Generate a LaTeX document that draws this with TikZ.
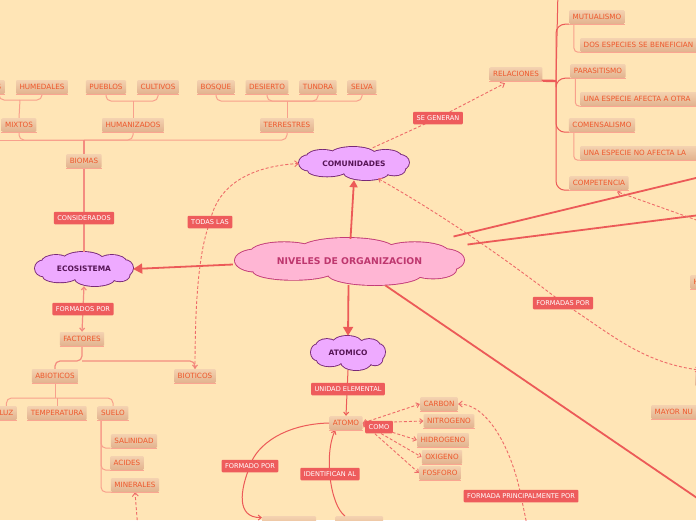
\documentclass[tikz,border=0pt]{standalone}
\usepackage{fontspec}
\setmainfont{DejaVu Sans}
\usetikzlibrary{shapes.geometric,arrows.meta,calc}
\definecolor{bg}{RGB}{255,229,182}
\definecolor{ttxt}{RGB}{238,88,44}
\definecolor{btop}{RGB}{244,210,176}
\definecolor{bbot}{RGB}{226,178,142}
\definecolor{uln}{RGB}{250,165,145}
\definecolor{lred}{RGB}{238,92,92}
\definecolor{cred}{RGB}{236,90,88}
\definecolor{treec}{RGB}{248,160,140}
\definecolor{pinkc}{RGB}{244,140,128}
\definecolor{vfill}{RGB}{238,170,255}
\definecolor{vdraw}{RGB}{120,40,120}
\definecolor{vtxt}{RGB}{85,20,85}
\definecolor{nfill}{RGB}{255,182,212}
\definecolor{ndraw}{RGB}{195,60,120}
\definecolor{ntxt}{RGB}{190,55,110}
\newcommand\mypuffs{(-0.57,-0.41) ellipse[x radius=0.29,y radius=0.41]
  (-0.02,-0.53) ellipse[x radius=0.41,y radius=0.47]
  (0.57,-0.41) ellipse[x radius=0.29,y radius=0.41]
  (-0.82,-0.04) ellipse[x radius=0.18,y radius=0.47]
  (0.82,-0.06) ellipse[x radius=0.18,y radius=0.47]
  (-0.49,0.41) ellipse[x radius=0.35,y radius=0.37]
  (0.22,0.53) ellipse[x radius=0.41,y radius=0.47]
  (0.73,0.35) ellipse[x radius=0.2,y radius=0.37]
  (0,0) ellipse[x radius=0.82,y radius=0.6]}
% #1 centre coordinate name, #2 half width, #3 half height, #4 fill, #5 stroke
\newcommand\blobdraw[5]{%
  \begin{scope}[shift={(#1)},xscale=#2,yscale=#3]
    \path[draw=#5, line width=1.8pt] \mypuffs;
    \path[fill=#4] \mypuffs;
  \end{scope}}
\tikzset{
  topic/.style={font=\fontsize{7.2}{8}\selectfont, text=ttxt, top color=btop, bottom color=bbot,
    rounded corners=1.2pt, inner xsep=3.5pt, inner ysep=0pt, minimum height=14pt,
    text height=5.3pt, text depth=0pt},
  lbl/.style={font=\fontsize{6.6}{8}\selectfont, text=white, fill=lred, rounded corners=1pt,
    inner xsep=3.5pt, inner ysep=0pt, minimum height=12.5pt, text height=4.9pt, text depth=0pt},
  blobtext/.style={ellipse, inner sep=0pt, text=vtxt, font=\fontsize{7.5}{9}\selectfont\bfseries},
  uline/.style={uln, line width=1.1pt},
  tree/.style={treec, line width=1pt, rounded corners=5pt},
  pinkline/.style={pinkc, line width=1.2pt},
  brk/.style={cred, line width=1pt, rounded corners=9pt},
  mainline/.style={cred, line width=1.8pt},
  bigtip/.style={-{Triangle[length=9pt,width=10pt]}},
  dsh/.style={cred!90, line width=0.9pt, dash pattern=on 3pt off 2pt},
  barb/.style={{Straight Barb[length=3pt,width=5pt]}-{Straight Barb[length=3pt,width=5pt]}}
}
\begin{document}
\begin{tikzpicture}[x=1pt,y=-1pt]
\useasboundingbox (0,0) rectangle (696,520);
\fill[bg] (0,0) rectangle (696,520);
\begin{scope}
\clip (0,0) rectangle (696,520);

% coordinates
\coordinate (j1) at (20,100);
\coordinate (j2) at (133,101);
\coordinate (j3) at (287,101);
\coordinate (j4) at (84,140);
\coordinate (offl) at (-10,140);
\coordinate (j5) at (57,398);
\coordinate (j6) at (82,361);
\coordinate (sueb) at (101,420);
\coordinate (jr) at (556,81);
\coordinate (topr) at (558,-10);
\coordinate (r1) at (700,177);
\coordinate (r2) at (700,215);
\coordinate (r3) at (700,500);
\coordinate (r4) at (699,370);
\coordinate (offc) at (702,222);
\coordinate (offm) at (138,530);
\coordinate (offf) at (528,530);
% label positions
\coordinate (consc) at (84,218);
\coordinate (todasc) at (210,222);
\coordinate (fporc) at (83,309);
\coordinate (segc) at (438,118);
\coordinate (fmdc) at (563,303);
\coordinate (unidc) at (348,389);
\coordinate (comoc) at (379,427);
\coordinate (fdoc) at (250,466);
\coordinate (idec) at (330,474);
\coordinate (fppc) at (521,496);
% cloud centres
\coordinate (nivc) at (349.5,261.5);
\coordinate (comc) at (354,163.5);
\coordinate (ecoc) at (84,269);
\coordinate (atoc) at (348,353);

% clouds
\blobdraw{nivc}{114.5}{23.5}{nfill}{ndraw}
\blobdraw{comc}{55}{16.5}{vfill}{vdraw}
\blobdraw{ecoc}{49}{17}{vfill}{vdraw}
\blobdraw{atoc}{37}{17}{vfill}{vdraw}
\node[blobtext, minimum width=229pt, minimum height=47pt, text=ntxt,
  font=\fontsize{9.3}{11}\selectfont\bfseries] (niv) at (nivc) {NIVELES DE ORGANIZACION};
\node[blobtext, minimum width=110pt, minimum height=33pt] (com) at (comc) {COMUNIDADES};
\node[blobtext, minimum width=98pt, minimum height=34pt] (eco) at (ecoc) {ECOSISTEMA};
\node[blobtext, minimum width=74pt, minimum height=34pt] (ato) at (atoc) {ATOMICO};

% topics
\node[topic, anchor=east] (s0) at (5,87) {S};
\node[topic] (hum) at (42,87) {HUMEDALES};
\node[topic] (pue) at (106,87) {PUEBLOS};
\node[topic] (cul) at (158,87) {CULTIVOS};
\node[topic] (bos) at (216,87) {BOSQUE};
\node[topic] (des) at (267,87) {DESIERTO};
\node[topic] (tun) at (318,87) {TUNDRA};
\node[topic] (sel) at (362,87) {SELVA};
\node[topic] (mix) at (19,125) {MIXTOS};
\node[topic] (hzd) at (133,125) {HUMANIZADOS};
\node[topic] (ter) at (287,125) {TERRESTRES};
\node[topic] (bio) at (84,161) {BIOMAS};
\node[topic] (fac) at (82,339) {FACTORES};
\node[topic] (abi) at (55,376) {ABIOTICOS};
\node[topic] (bit) at (195,376) {BIOTICOS};
\node[topic, anchor=east] (luz) at (17,413) {LUZ};
\node[topic] (tem) at (57,413) {TEMPERATURA};
\node[topic] (sue) at (113,413) {SUELO};
\node[topic] (sal) at (134,441) {SALINIDAD};
\node[topic] (aci) at (127,463) {ACIDES};
\node[topic] (min) at (135,485) {MINERALES};
\node[topic] (rel) at (516,74) {RELACIONES};
\node[topic] (mut) at (597,17) {MUTUALISMO};
\node[topic, anchor=west, text width=140pt, align=left] (dos) at (580,45) {DOS ESPECIES SE BENEFICIAN};
\node[topic] (par) at (598,71) {PARASITISMO};
\node[topic, anchor=west, text width=140pt, align=left] (una) at (580,99) {UNA ESPECIE AFECTA A OTRA};
\node[topic] (cms) at (602,125) {COMENSALISMO};
\node[topic, anchor=west, text width=140pt, align=left] (uno) at (580,153) {UNA ESPECIE NO AFECTA LA};
\node[topic] (cpt) at (599,183) {COMPETENCIA};
\node[topic, anchor=west, text width=30pt, align=left] (hh) at (690,282) {H};
\node[topic, anchor=north west, minimum width=30pt] (ee) at (695,372) {};
\node[topic, anchor=west, text width=60pt, align=left] (may) at (651,412) {MAYOR NU};
\node[topic] (atm) at (346,423) {ATOMO};
\node[topic] (car) at (439,404) {CARBON};
\node[topic] (nit) at (449,421) {NITROGENO};
\node[topic] (hid) at (443,440) {HIDROGENO};
\node[topic] (oxi) at (442,457) {OXIGENO};
\node[topic] (fos) at (440,473) {FOSFORO};
\node[topic, anchor=north west, minimum width=54pt] (b1) at (262,516) {};
\node[topic, anchor=north west, minimum width=48pt] (b2) at (335,516) {};

% tree top
\draw[tree] (s0.south) |- (j1) -| (hum.south);
\draw[tree] (j1) -- (mix.north);
\draw[tree] (pue.south) |- (j2) -| (cul.south);
\draw[tree] (j2) -- (hzd.north);
\draw[tree] (bos.south) |- (j3) -| (sel.south);
\draw[tree] (des.south) |- (j3) -| (tun.south);
\draw[tree] (j3) -- (ter.north);
\draw[tree] (mix.south) |- (j4) -| (ter.south);
\draw[tree] (hzd.south) |- (j4);
\draw[tree] (offl) -- (j4);
\draw[pinkline] (j4) -- (bio.north);
% abioticos
\draw[tree] (abi.south) -- (abi.south |- j5);
\draw[tree] (luz.north) |- (j5) -| (sue.north);
\draw[tree] (tem.north) -- (tem.north |- j5);
\draw[tree] (sueb) |- (sal.south west);
\draw[tree] (sueb) |- (aci.south west);
\draw[tree] (sueb) |- (min.south west);
% factores
\draw[pinkline, rounded corners=5pt] (abi.north) |- (j6) -- (fac.south);
\draw[pinkline, rounded corners=5pt, -{Straight Barb[length=3pt,width=5pt]}] (j6) -| (bit.north);
% relaciones bracket
\draw[cred, line width=2.4pt] ($(rel.south east)+(-1,-0.5)$) -- (jr);
\draw[brk] (jr) |- (mut.south west);
\draw[brk] (jr) -- (topr);
\draw[brk] (jr) |- (par.south west);
\draw[brk] (jr) |- (cms.south west);
\draw[brk] (jr) |- (cpt.south west);
\draw[tree, rounded corners=4pt] ($(mut.south west)+(5,0)$) |- (dos.south west);
\draw[tree, rounded corners=4pt] ($(par.south west)+(5,0)$) |- (una.south west);
\draw[tree, rounded corners=4pt] ($(cms.south west)+(5,0)$) |- (uno.south west);

% solid main connectors
\draw[mainline, bigtip] ($(niv.west)+(-2,3)$) -- (eco.east);
\draw[mainline, -{Triangle[length=7pt,width=8pt]}] ($(niv.north)+(1,1)$) -- (com.south);
\draw[mainline, bigtip] ($(niv.south)+(-1,0)$) -- (ato.north);
\draw[mainline] ($(niv.center)+(104,-25)$) -- (r1);
\draw[mainline] ($(niv.center)+(118,-17)$) -- (r2);
\draw[mainline] ($(niv.center)+(36,24)$) -- (r3);
% pink connectors
\draw[pinkline] (bio.south) -- (eco.north);
\draw[pinkline, barb] (eco.south) -- (fac.north);
\draw[cred, line width=1pt, -{Straight Barb[length=3pt,width=5pt]}] (ato.south) -- (atm.north);
% dashed
\draw[dsh, -{Straight Barb[length=3.5pt,width=6pt]}] (bit.north) .. controls (195,300) and (199,250) .. (todasc)
  .. controls (218,182) and (255,166) .. (com.west);
\draw[dsh, -{Straight Barb[length=3.5pt,width=6pt]}] (com.40) -- (segc) -- ($(rel.south)+(-11,2)$);
\draw[dsh, barb] (com.-32) .. controls (455,222) and (520,270) .. (fmdc)
  .. controls (610,333) and (640,362) .. (r4);
\draw[dsh, -{Straight Barb[length=3.5pt,width=6pt]}] (offc) -- ($(cpt.south)+(18,1.5)$);
\draw[dsh, -{Straight Barb[length=3.5pt,width=6pt]}] (offm) -- (min.south);
\draw[dsh, barb] (atm.east) -- (car.west);
\draw[dsh, barb] (atm.east) -- (nit.west);
\draw[dsh, barb] (atm.east) -- (hid.west);
\draw[dsh, barb] (atm.east) -- (oxi.west);
\draw[dsh, barb] (atm.east) -- (fos.west);
\draw[dsh, {Straight Barb[length=3.5pt,width=6pt]}-] (car.east) .. controls (488,404) and (512,450) .. (fppc) -- (offf);
% atomo curves
\draw[cred, line width=1pt, -{Straight Barb[length=3pt,width=5pt]}] (atm.west) .. controls (285,424) and (256,445) .. (fdoc)
  .. controls (240,490) and (236,518) .. ($(b1.north west)+(0,1.5)$);
\draw[cred, line width=1pt, -{Straight Barb[length=3pt,width=5pt]}] ($(b2.north west)+(10,0)$) .. controls (330,505) and (324,455) .. ($(atm.south west)+(6,0)$);

% labels
\node[lbl] (cons) at (consc) {CONSIDERADOS};
\node[lbl] (todas) at (todasc) {TODAS LAS};
\node[lbl] (fpor) at (fporc) {FORMADOS POR};
\node[lbl] (seg) at (segc) {SE GENERAN};
\node[lbl] (fmd) at (fmdc) {FORMADAS POR};
\node[lbl] (unid) at (unidc) {UNIDAD ELEMENTAL};
\node[lbl] (como) at (comoc) {COMO};
\node[lbl] (fdo) at (fdoc) {FORMADO POR};
\node[lbl] (ide) at (idec) {IDENTIFICAN AL};
\node[lbl] (fpp) at (fppc) {FORMADA PRINCIPALMENTE POR};

% underlines
\foreach \n in {s0,hum,pue,cul,bos,des,tun,sel,mix,hzd,ter,bio,fac,abi,bit,luz,tem,sue,sal,aci,min,rel,mut,dos,par,una,cms,uno,cpt,hh,may,atm,car,nit,hid,oxi,fos}
  \draw[uline] ([yshift=-0.6pt]\n.south west) -- ([yshift=-0.6pt]\n.south east);
\end{scope}
\end{tikzpicture}
\end{document}
